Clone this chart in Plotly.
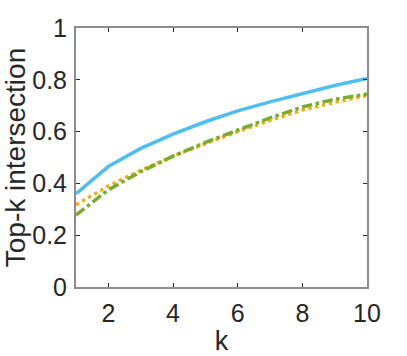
import plotly.graph_objects as go

k = [1, 2, 3, 4, 5, 6, 7, 8, 9, 10]
blue_vals = [0.36, 0.465, 0.535, 0.59, 0.638, 0.68, 0.715, 0.748, 0.778, 0.805]
orange_vals = [0.318, 0.39, 0.45, 0.505, 0.553, 0.6, 0.643, 0.683, 0.713, 0.74]
green_vals = [0.278, 0.375, 0.445, 0.505, 0.558, 0.607, 0.653, 0.695, 0.725, 0.745]

x_ticks = [2, 4, 6, 8, 10]
y_ticks = [0, 0.2, 0.4, 0.6, 0.8, 1]
y_tick_text = ["0", "0.2", "0.4", "0.6", "0.8", "1"]

FONT = "Liberation Sans, Arial, Helvetica"
TXT = "#262626"

fig = go.Figure()
fig.add_trace(go.Scatter(x=k, y=blue_vals, mode="lines",
                         line=dict(color="#4DBEEE", width=3.5, dash="solid")))
fig.add_trace(go.Scatter(x=k, y=orange_vals, mode="lines",
                         line=dict(color="#EDB120", width=3.5, dash="dot")))
fig.add_trace(go.Scatter(x=k, y=green_vals, mode="lines",
                         line=dict(color="#77AC30", width=3.5, dash="dashdot")))

axis_common = dict(showgrid=False, zeroline=False, showline=True, linecolor="#8c8c8c",
                   linewidth=2, mirror="ticks", ticks="inside", ticklen=4,
                   tickcolor="#262626", tickwidth=1, automargin=False,
                   tickfont=dict(family=FONT, size=25, color=TXT))

fig.update_layout(
    width=407, height=356,
    margin=dict(l=76, r=40, t=28, b=69),
    paper_bgcolor="white", plot_bgcolor="white",
    showlegend=False,
    xaxis=dict(range=[1, 10], tickvals=x_ticks, ticklabelstandoff=3,
               title=dict(text="k", font=dict(family=FONT, size=27, color=TXT), standoff=9),
               **axis_common),
    yaxis=dict(range=[0, 1], tickvals=y_ticks, ticktext=y_tick_text, ticklabelstandoff=2,
               title=dict(text="Top-k intersection", font=dict(family=FONT, size=28, color=TXT), standoff=2),
               **axis_common),
)

fig.write_html("out.html", config={"displayModeBar": False},
               post_script="document.body.style.margin='0';")
